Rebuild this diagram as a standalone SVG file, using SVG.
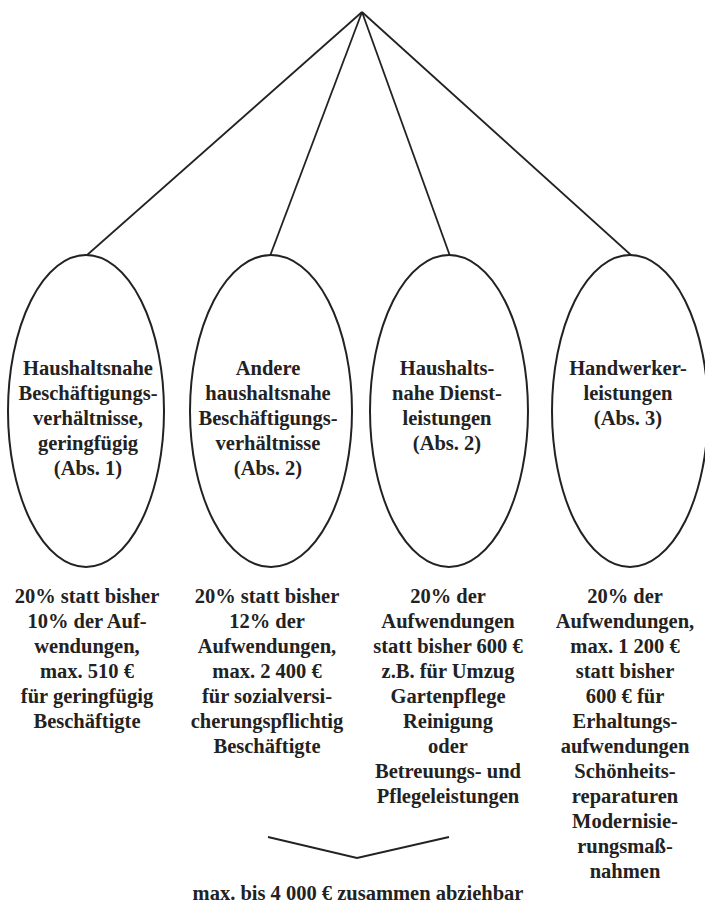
<svg xmlns="http://www.w3.org/2000/svg" width="705" height="904" viewBox="0 0 705 904">
<style>
.ln{stroke:#222;stroke-width:1.8;fill:none}
.el{stroke:#222;stroke-width:2;fill:#fff}
.t{font-family:"Liberation Serif","Times New Roman",serif;font-weight:bold;font-size:20.5px;fill:#222;text-anchor:middle}
</style>
<rect width="705" height="904" fill="#fff"/>
<g id="connectors">
<line class="ln" x1="362" y1="12" x2="86" y2="256"/>
<line class="ln" x1="362" y1="12" x2="270" y2="256"/>
<line class="ln" x1="362" y1="12" x2="450" y2="256"/>
<line class="ln" x1="362" y1="12" x2="632" y2="256"/>
<polyline class="ln" points="268,837 357,858 449,837"/>
</g>
<g id="node1">
<ellipse class="el" cx="86" cy="411" rx="78" ry="156"/>
<text class="t" x="88" y="375">Haushaltsnahe</text>
<text class="t" x="88" y="400">Beschäftigungs-</text>
<text class="t" x="88" y="425">verhältnisse,</text>
<text class="t" x="88" y="450">geringfügig</text>
<text class="t" x="88" y="475">(Abs. 1)</text>
</g>
<g id="node2">
<ellipse class="el" cx="271" cy="411" rx="81" ry="156"/>
<text class="t" x="268" y="375">Andere</text>
<text class="t" x="268" y="400">haushaltsnahe</text>
<text class="t" x="268" y="425">Beschäftigungs-</text>
<text class="t" x="268" y="450">verhältnisse</text>
<text class="t" x="268" y="475">(Abs. 2)</text>
</g>
<g id="node3">
<ellipse class="el" cx="449" cy="411" rx="79" ry="156"/>
<text class="t" x="447" y="375">Haushalts-</text>
<text class="t" x="447" y="400">nahe Dienst-</text>
<text class="t" x="447" y="425">leistungen</text>
<text class="t" x="447" y="450">(Abs. 2)</text>
</g>
<g id="node4">
<ellipse class="el" cx="630" cy="411" rx="78" ry="156"/>
<text class="t" x="628" y="375">Handwerker-</text>
<text class="t" x="628" y="400">leistungen</text>
<text class="t" x="628" y="425">(Abs. 3)</text>
</g>
<g id="desc1">
<text class="t" x="87" y="603">20% statt bisher</text>
<text class="t" x="87" y="628">10% der Auf-</text>
<text class="t" x="87" y="653">wendungen,</text>
<text class="t" x="87" y="678">max. 510 €</text>
<text class="t" x="87" y="703">für geringfügig</text>
<text class="t" x="87" y="728">Beschäftigte</text>
</g>
<g id="desc2">
<text class="t" x="267" y="603">20% statt bisher</text>
<text class="t" x="267" y="628">12% der</text>
<text class="t" x="267" y="653">Aufwendungen,</text>
<text class="t" x="267" y="678">max. 2 400 €</text>
<text class="t" x="267" y="703">für sozialversi-</text>
<text class="t" x="267" y="728">cherungspflichtig</text>
<text class="t" x="267" y="753">Beschäftigte</text>
</g>
<g id="desc3">
<text class="t" x="448" y="603">20% der</text>
<text class="t" x="448" y="628">Aufwendungen</text>
<text class="t" x="448" y="653">statt bisher 600 €</text>
<text class="t" x="448" y="678">z.B. für Umzug</text>
<text class="t" x="448" y="703">Gartenpflege</text>
<text class="t" x="448" y="728">Reinigung</text>
<text class="t" x="448" y="753">oder</text>
<text class="t" x="448" y="778">Betreuungs- und</text>
<text class="t" x="448" y="803">Pflegeleistungen</text>
</g>
<g id="desc4">
<text class="t" x="625" y="603">20% der</text>
<text class="t" x="625" y="628">Aufwendungen,</text>
<text class="t" x="625" y="653">max. 1 200 €</text>
<text class="t" x="625" y="678">statt bisher</text>
<text class="t" x="625" y="703">600 € für</text>
<text class="t" x="625" y="728">Erhaltungs-</text>
<text class="t" x="625" y="753">aufwendungen</text>
<text class="t" x="625" y="778">Schönheits-</text>
<text class="t" x="625" y="803">reparaturen</text>
<text class="t" x="625" y="828">Modernisie-</text>
<text class="t" x="625" y="853">rungsmaß-</text>
<text class="t" x="625" y="878">nahmen</text>
</g>
<g id="total">
<text class="t" x="358" y="900">max. bis 4 000 € zusammen abziehbar</text>
</g>
</svg>
